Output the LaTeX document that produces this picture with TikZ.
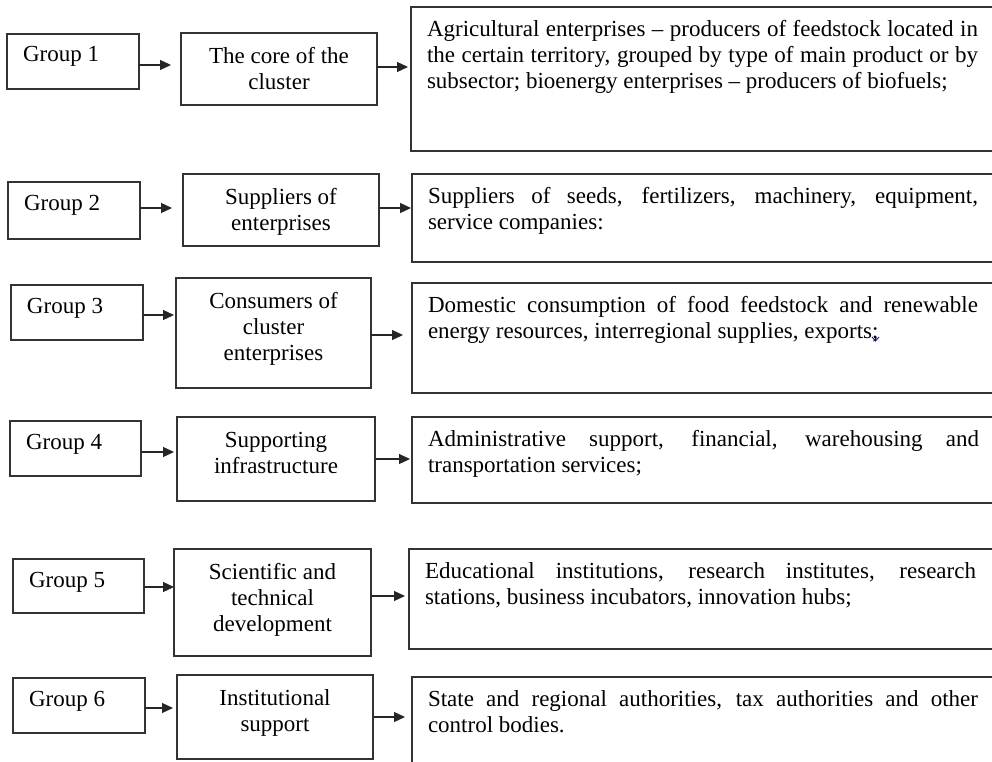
\documentclass[tikz,border=0pt]{standalone}
\usepackage{fontspec}
\setmainfont{Liberation Serif}
\usetikzlibrary{arrows.meta}
\tikzset{
  box/.style={draw=black!80, line width=1.2pt, fill=none, inner sep=0pt, outer sep=0pt, anchor=north west},
  txt/.style={inner sep=0pt, outer sep=0pt, font=\fontsize{23}{26}\selectfont, text=black},
  arr/.style={draw=black!85, line width=1.2pt, -{Triangle[length=11pt,width=10pt]}},
}
\newcommand\mkbox[5]{\node[box, minimum width={(#4-#2)*1pt}, minimum height={(#5-#3)*1pt}] (#1) at (#2,#3) {};}
\newcommand\fst{\rule{0pt}{16pt}}
\begin{document}
\begin{tikzpicture}[x=1pt,y=-1pt]
\useasboundingbox (0,0) rectangle (992,762);
\fill[white] (0,0) rectangle (992,762);
\clip (0,0) rectangle (992,762);
% boxes
\mkbox{g1}{7}{34}{139}{89}
\mkbox{g2}{8}{182}{140}{239}
\mkbox{g3}{11}{285}{143}{340}
\mkbox{g4}{10}{421}{141}{476}
\mkbox{g5}{13}{559}{144}{613}
\mkbox{g6}{13}{678}{145}{733}
\mkbox{c1}{181}{33}{377}{105}
\mkbox{c2}{183}{174}{379}{246}
\mkbox{c3}{176}{278}{371}{388}
\mkbox{c4}{177}{417}{375}{501}
\mkbox{c5}{174}{549}{371}{656}
\mkbox{c6}{177}{675}{373}{759}
\mkbox{r1}{411}{7}{1000}{151}
\mkbox{r2}{412}{174}{1000}{262}
\mkbox{r3}{412}{283}{1000}{393}
\mkbox{r4}{412}{417}{1000}{503}
\mkbox{r5}{409}{549}{1000}{649}
\mkbox{r6}{412}{677}{1000}{790}
% group texts
\foreach \i in {1,...,6}{
  \node[txt, anchor=north west] (gt\i) at ([xshift=16pt,yshift=-12pt]g\i.north west) {\fst Group \i};
}
% middle texts
\node[txt, align=center, anchor=north] (ct1) at ([yshift=-14pt]c1.north) {\fst The core of the\\cluster};
\node[txt, align=center, anchor=north] (ct2) at ([yshift=-14pt]c2.north) {\fst Suppliers of\\enterprises};
\node[txt, align=center, anchor=north] (ct3) at ([yshift=-14pt]c3.north) {\fst Consumers of\\cluster\\enterprises};
\node[txt, align=center, anchor=north] (ct4) at ([yshift=-14pt]c4.north) {\fst Supporting\\infrastructure};
\node[txt, align=center, anchor=north] (ct5) at ([yshift=-14pt]c5.north) {\fst Scientific and\\technical\\development};
\node[txt, align=center, anchor=north] (ct6) at ([yshift=-14pt]c6.north) {\fst Institutional\\support};
% right texts
\node[txt, align=left, anchor=north west] (rt1) at ([xshift=16pt,yshift=-13pt]r1.north west)
  {\fst\makebox[551pt][s]{Agricultural enterprises – producers of feedstock located in}\\
   \makebox[551pt][s]{the certain territory, grouped by type of main product or by}\\
   subsector; bioenergy enterprises – producers of biofuels;};
\node[txt, align=left, anchor=north west] (rt2) at ([xshift=16pt,yshift=-13pt]r2.north west)
  {\fst\makebox[550pt][s]{Suppliers of seeds, fertilizers, machinery, equipment,}\\
   service companies:};
\node[txt, align=left, anchor=north west] (rt3) at ([xshift=16pt,yshift=-13pt]r3.north west)
  {\fst\makebox[550pt][s]{Domestic consumption of food feedstock and renewable}\\
   energy resources, interregional supplies, exports;};
\node[txt, align=left, anchor=north west] (rt4) at ([xshift=16pt,yshift=-13pt]r4.north west)
  {\fst\makebox[551pt][s]{Administrative support, financial, warehousing and}\\
   transportation services;};
\node[txt, align=left, anchor=north west] (rt5) at ([xshift=16pt,yshift=-13pt]r5.north west)
  {\fst\makebox[551pt][s]{Educational institutions, research institutes, research}\\
   stations, business incubators, innovation hubs;};
\node[txt, align=left, anchor=north west] (rt6) at ([xshift=16pt,yshift=-13pt]r6.north west)
  {\fst\makebox[550pt][s]{State and regional authorities, tax authorities and other}\\
   control bodies.};
% spell-check mark under the semicolon
\draw[blue!65!black, line width=0.8pt] (872,337) -- (875.5,341) -- (879,337);
% arrows group -> middle
\draw[arr, shorten >=10pt] (g1.east |- 0,65) -- (c1.west |- 0,65);
\draw[arr, shorten >=11pt] (g2.east |- 0,208) -- (c2.west |- 0,208);
\draw[arr, shorten >=2pt] (g3.east |- 0,315) -- (c3.west |- 0,315);
\draw[arr, shorten >=3pt] (g4.east |- 0,452) -- (c4.west |- 0,452);
\draw[arr] (g5.east |- 0,587) -- (c5.west |- 0,587);
\draw[arr, shorten >=4pt] (g6.east |- 0,708) -- (c6.west |- 0,708);
% arrows middle -> right
\draw[arr, shorten >=3pt] (c1.east |- 0,67) -- (r1.west |- 0,67);
\draw[arr, shorten >=1pt] (c2.east |- 0,208) -- (r2.west |- 0,208);
\draw[arr, shorten >=9pt] (c3.east |- 0,335) -- (r3.west |- 0,335);
\draw[arr, shorten >=2pt] (c4.east |- 0,459) -- (r4.west |- 0,459);
\draw[arr, shorten >=4pt] (c5.east |- 0,596) -- (r5.west |- 0,596);
\draw[arr, shorten >=7pt] (c6.east |- 0,717) -- (r6.west |- 0,717);
\end{tikzpicture}
\end{document}
